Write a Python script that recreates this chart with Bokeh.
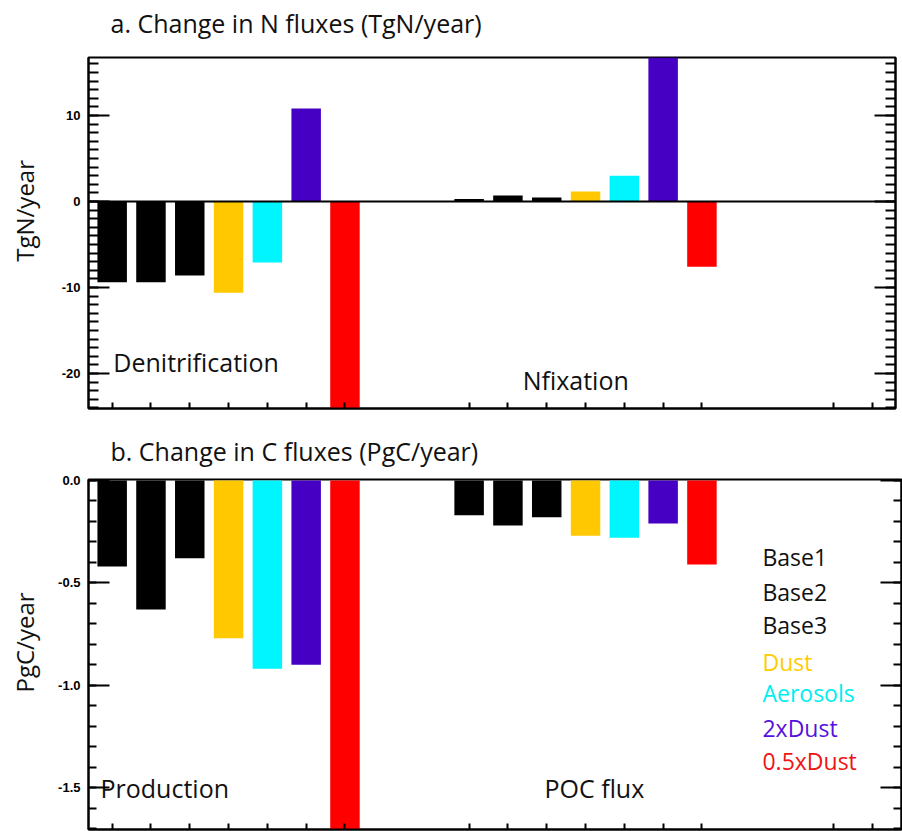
import numpy as np
from bokeh.plotting import figure
from bokeh.models import (FixedTicker, LinearAxis, Range1d, Span,
                          ColumnDataSource, PrintfTickFormatter)
from bokeh.layouts import column, row
from bokeh.embed import file_html
from bokeh.resources import INLINE
from bokeh.core.properties import value

# ---- model runs (one bar per run in every group) ----
runs = ["Base1", "Base2", "Base3", "Dust", "Aerosols", "2xDust", "0.5xDust"]
bar_colors = ["#000000", "#000000", "#000000", "#FFC800", "#00F5FF", "#4600C4", "#FF0000"]
legend_colors = ["#111111", "#111111", "#111111", "#FFCC00", "#00EEF2", "#5512DD", "#F01414"]

# ---- a. change in N fluxes (TgN/year) ----
n_groups = ["Denitrification", "Nfixation"]
denitrification = [-9.4, -9.4, -8.6, -10.6, -7.1, 10.8, -26.0]
nfixation = [0.3, 0.7, 0.45, 1.15, 3.0, 17.5, -7.6]

# ---- b. change in C fluxes (PgC/year) ----
c_groups = ["Production", "POC flux"]
production = [-0.42, -0.63, -0.38, -0.77, -0.92, -0.90, -1.80]
poc_flux = [-0.17, -0.22, -0.18, -0.27, -0.28, -0.21, -0.41]

# ---- axis ticks ----
n_ticks = [-20, -10, 0, 10]
n_tick_labels = ["-20", "-10", "0", "10"]
c_ticks = [-1.5, -1.0, -0.5, 0.0]
c_tick_labels = ["-1.5", "-1.0", "-0.5", "0.0"]

# ---- layout (x in bar slots) ----
PX_PER_SLOT = 38.8
GROUP_START = [0.0, 9.2]
EXTRA_XTICKS = [18.6, 19.6]
BAR_WIDTH = 0.76
X_LEFT = -0.61
FONT = "Open Sans"
TICK_FONT = "Liberation Sans"
LABEL_STRIP = 45          # width of the strip holding the rotated y-axis title


def bar_source(groups_values):
    xs, tops, cols = [], [], []
    for g, vals in enumerate(groups_values):
        for i, v in enumerate(vals):
            xs.append(GROUP_START[g] + i)
            tops.append(v)
            cols.append(bar_colors[i])
    return ColumnDataSource(dict(x=xs, top=tops, color=cols))


def x_ticks():
    t = [GROUP_START[g] + i for g in range(len(GROUP_START)) for i in range(len(runs))]
    return t + EXTRA_XTICKS


def blank_fig(w, h):
    """Axis-free canvas whose data units are pixels measured from its top-left."""
    p = figure(width=w, height=h, x_range=Range1d(0, w), y_range=Range1d(h, 0),
               x_axis_location=None, y_axis_location=None,
               output_backend="svg", toolbar_location=None, min_border=0,
               outline_line_color=None, background_fill_color="white",
               border_fill_color="white")
    p.xgrid.visible = False
    p.ygrid.visible = False
    return p


def hide_labels(ax):
    ax.major_label_text_font_size = "0px"
    ax.major_label_text_color = None
    ax.major_label_standoff = 0


def make_panel(groups_values, frame_w, frame_h, y_lo, y_hi, ticks, tick_labels,
               minor, minor_len, borders):
    top_b, right_b, bottom_b = borders
    p = figure(frame_width=frame_w, frame_height=frame_h,
               x_range=Range1d(X_LEFT, X_LEFT + frame_w / PX_PER_SLOT),
               y_range=Range1d(y_lo, y_hi),
               output_backend="svg", toolbar_location=None,
               min_border_left=88 - LABEL_STRIP, min_border_right=right_b,
               min_border_top=top_b, min_border_bottom=bottom_b,
               background_fill_color="white", border_fill_color="white")
    p.xgrid.visible = False
    p.ygrid.visible = False
    p.outline_line_color = "black"
    p.outline_line_width = 2
    p.outline_line_alpha = 1.0

    src = bar_source(groups_values)
    p.vbar(x="x", top="top", bottom=0, width=BAR_WIDTH, color="color",
           line_color=None, source=src)

    # bottom axis: small inward ticks, no labels
    xa = p.xaxis[0]
    xa.ticker = FixedTicker(ticks=x_ticks(), minor_ticks=[])
    xa.major_tick_in = 6
    xa.major_tick_out = 0
    xa.major_tick_line_width = 2
    xa.axis_line_width = 2
    hide_labels(xa)

    # left axis with labels, right axis mirrored without labels
    ya = p.yaxis[0]
    yr = LinearAxis()
    p.add_layout(yr, "right")
    for ax in (ya, yr):
        ax.ticker = FixedTicker(ticks=ticks, minor_ticks=minor)
        ax.major_tick_in = 21
        ax.major_tick_out = 0
        ax.minor_tick_in = minor_len
        ax.minor_tick_out = 0
        ax.major_tick_line_width = 2
        ax.minor_tick_line_width = 2
        ax.axis_line_width = 2
    ya.major_label_overrides = {t: l for t, l in zip(ticks, tick_labels)}
    ya.major_label_text_font = TICK_FONT
    ya.major_label_text_font_style = "bold"
    ya.major_label_text_font_size = "13px"
    ya.major_label_text_color = "black"
    ya.major_label_standoff = 8
    hide_labels(yr)
    return p


def title_fig(text, h, y_mid):
    p = blank_fig(902, h)
    p.text(x=[110], y=[y_mid], text=[text], text_font=value(FONT),
           text_font_size="25px", text_baseline="middle", text_align="left",
           text_color="#111111")
    return p


def ylabel_fig(text, h, y_mid):
    p = blank_fig(LABEL_STRIP, h)
    p.text(x=[24], y=[y_mid], text=[text], text_font=value(FONT),
           text_font_size="24px", text_baseline="middle", text_align="center",
           angle=np.pi / 2, text_color="#111111")
    return p


# ---------------- panel a (rows 0..418) ----------------
n_minor = list(range(-24, 17))
pa = make_panel([denitrification, nfixation], 807, 351, -24.07, 16.74,
                n_ticks, n_tick_labels, n_minor, 10, (12, 7, 10))
pa.yaxis[0].formatter = PrintfTickFormatter(format="%d")
pa.add_layout(Span(location=0, dimension="width", line_color="black", line_width=2))
pa.text(x=[0.03, 10.58], y=[-18.7, -20.8], text=n_groups,
        text_font=value(FONT), text_font_size="25px",
        text_baseline="middle", text_align="left", text_color="#111111")

title_a = title_fig("a. Change in N fluxes (TgN/year)", 45, 22)
ylab_a = ylabel_fig("TgN/year", 373, 208 - 45)

# ---------------- panel b (rows 418..831) ----------------
c_minor = [round(-1.7 + 0.1 * k, 1) for k in range(18)]
pb = make_panel([production, poc_flux], 813, 350, -1.705, 0.005,
                c_ticks, c_tick_labels, c_minor, 8, (11, 1, 2))
pb.yaxis[0].formatter = PrintfTickFormatter(format="%.1f")
pb.text(x=[-0.3, 11.14], y=[-1.5, -1.5], text=c_groups,
        text_font=value(FONT), text_font_size="25px",
        text_baseline="middle", text_align="left", text_color="#111111")
legend_src = ColumnDataSource(dict(
    x=[16.76] * len(runs),
    y=[-0.372, -0.543, -0.708, -0.889, -1.04, -1.207, -1.368],
    text=runs, color=legend_colors))
pb.text(x="x", y="y", text="text", text_color="color", source=legend_src,
        text_font=value(FONT), text_font_size="23px",
        text_baseline="middle", text_align="left")

title_b = title_fig("b. Change in C fluxes (PgC/year)", 50, 450 - 418)
ylab_b = ylabel_fig("PgC/year", 363, 637 - 468)

layout = column(title_a, row(ylab_a, pa, spacing=0),
                title_b, row(ylab_b, pb, spacing=0), spacing=0)
open("out.html", "w").write(file_html(layout, INLINE))
